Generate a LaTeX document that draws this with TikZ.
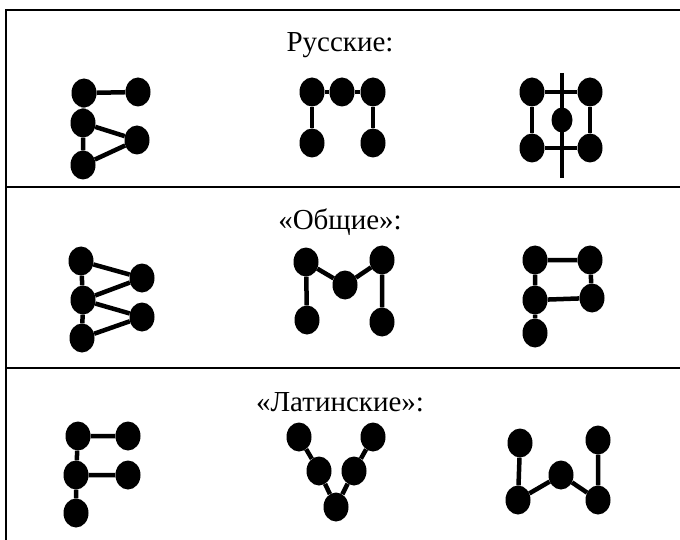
\documentclass[tikz,border=0pt]{standalone}
\usepackage{fontspec}
\setmainfont{Liberation Serif}
\usetikzlibrary{shapes.geometric}

\begin{document}
\begin{tikzpicture}[x=1pt,y=-1pt,
    dot/.style={ellipse,fill=black,inner sep=0pt,minimum width=25pt,minimum height=29pt},
    smalldot/.style={dot,minimum width=21pt,minimum height=25pt},
    link/.style={line width=4.5pt},
    frame/.style={line width=2.5pt},
    title/.style={font=\fontsize{29}{34}\selectfont}]
  \useasboundingbox (0,0) rectangle (680,540);
  % frame and separators
  \draw[frame] (6,540) -- (6,10) -- (680,10);
  \draw[frame] (6,187) -- (680,187);
  \draw[frame] (6,368) -- (680,368);

  % row 1
  \node[title] (russian) at (340,45) {Русские:};
  % Б
  \node[dot] (b1) at (84,93) {};
  \node[dot] (b2) at (138,92) {};
  \node[dot] (b3) at (83,123) {};
  \node[dot] (b4) at (137,140) {};
  \node[dot] (b5) at (83,165) {};
  \draw[link] (b1) -- (b2) (b1) -- (b3) (b3) -- (b5) (b3) -- (b4) (b4) -- (b5);
  % П
  \node[dot] (p1) at (312,92) {};
  \node[dot] (p2) at (342,92) {};
  \node[dot] (p3) at (373,92) {};
  \node[dot] (p4) at (312,143) {};
  \node[dot] (p5) at (373,143) {};
  \draw[link] (p1) -- (p2) -- (p3) (p1) -- (p4) (p3) -- (p5);
  % Ф
  \coordinate (ftop) at (562,73);
  \coordinate (fbot) at (562,178);
  \node[dot] (f1) at (532,92) {};
  \node[dot] (f2) at (590,92) {};
  \node[dot] (f3) at (532,148) {};
  \node[dot] (f4) at (590,148) {};
  \draw[link] (f1) -- (f2) -- (f4) -- (f3) -- (f1);
  \draw[link] (ftop) -- (fbot);
  \node[smalldot] (f5) at (562,120) {};

  % row 2
  \node[title] (common) at (340,222) {«Общие»:};
  % double triangle
  \node[dot] (z1) at (81,261) {};
  \node[dot] (z2) at (142,278) {};
  \node[dot] (z3) at (83,300) {};
  \node[dot] (z4) at (142,317) {};
  \node[dot] (z5) at (82,338) {};
  \draw[link] (z1) -- (z3) -- (z5) (z1) -- (z2) -- (z3) -- (z4) -- (z5);
  % М
  \node[dot] (m1) at (306,262) {};
  \node[dot] (m2) at (382,260) {};
  \node[dot] (m3) at (345,285) {};
  \node[dot] (m4) at (307,320) {};
  \node[dot] (m5) at (382,322) {};
  \draw[link] (m4) -- (m1) -- (m3) -- (m2) -- (m5);
  % Р
  \node[dot] (r1) at (535,260) {};
  \node[dot] (r2) at (590,260) {};
  \node[dot] (r3) at (535,300) {};
  \node[dot] (r4) at (592,298) {};
  \node[dot] (r5) at (535,333) {};
  \draw[link] (r1) -- (r2) -- (r4) -- (r3) -- (r1) (r3) -- (r5);

  % row 3
  \node[title] (latin) at (340,402) {«Латинские»:};
  % F
  \node[dot] (l1) at (78,436) {};
  \node[dot] (l2) at (128,436) {};
  \node[dot] (l3) at (76,475) {};
  \node[dot] (l4) at (128,475) {};
  \node[dot] (l5) at (76,513) {};
  \draw[link] (l1) -- (l2) (l1) -- (l3) -- (l5) (l3) -- (l4);
  % V
  \node[dot] (v1) at (299,437) {};
  \node[dot] (v2) at (373,437) {};
  \node[dot] (v3) at (319,471) {};
  \node[dot] (v4) at (354,471) {};
  \node[dot] (v5) at (336,507) {};
  \draw[link] (v1) -- (v3) -- (v5) -- (v4) -- (v2);
  % W
  \node[dot] (w1) at (520,443) {};
  \node[dot] (w2) at (598,440) {};
  \node[dot] (w3) at (561,475) {};
  \node[dot] (w4) at (518,500) {};
  \node[dot] (w5) at (598,500) {};
  \draw[link] (w1) -- (w4) -- (w3) -- (w5) -- (w2);
\end{tikzpicture}
\end{document}
